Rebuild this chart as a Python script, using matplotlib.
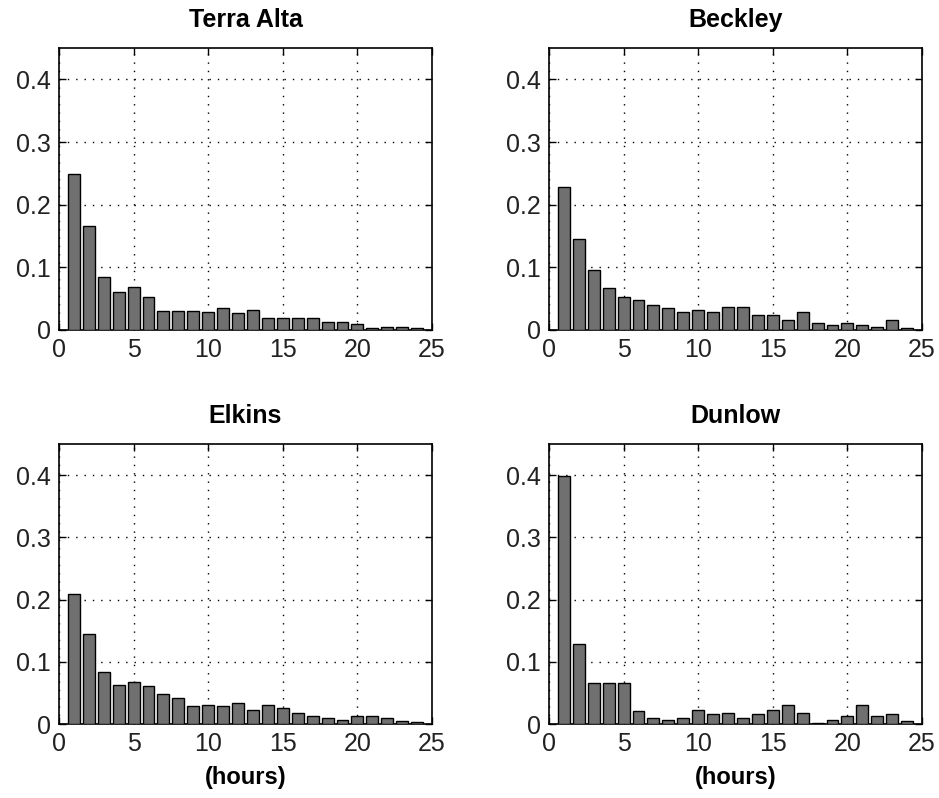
import matplotlib
matplotlib.use("Agg")
import matplotlib.pyplot as plt
from matplotlib.ticker import FuncFormatter

plt.rcParams['font.family'] = ['Liberation Sans', 'DejaVu Sans']

hours = list(range(1, 25))

terra_alta = [0.249, 0.166, 0.085, 0.061, 0.069, 0.053, 0.031, 0.031, 0.031, 0.029,
              0.035, 0.027, 0.032, 0.019, 0.019, 0.019, 0.019, 0.013, 0.013, 0.009,
              0.003, 0.005, 0.005, 0.003]
beckley = [0.228, 0.146, 0.096, 0.067, 0.053, 0.048, 0.040, 0.035, 0.029, 0.032,
           0.029, 0.037, 0.037, 0.024, 0.024, 0.016, 0.029, 0.011, 0.008, 0.011,
           0.008, 0.005, 0.016, 0.003]
elkins = [0.209, 0.145, 0.084, 0.063, 0.068, 0.061, 0.049, 0.042, 0.029, 0.031,
          0.029, 0.034, 0.023, 0.031, 0.026, 0.018, 0.013, 0.010, 0.007, 0.013,
          0.013, 0.010, 0.005, 0.003]
dunlow = [0.398, 0.129, 0.066, 0.066, 0.066, 0.021, 0.010, 0.007, 0.010, 0.023,
          0.016, 0.018, 0.010, 0.016, 0.023, 0.031, 0.018, 0.002, 0.007, 0.013,
          0.031, 0.013, 0.016, 0.005]

stations = ['Terra Alta', 'Beckley', 'Elkins', 'Dunlow']
series = [terra_alta, beckley, elkins, dunlow]

W, H = 939, 798
fig = plt.figure(figsize=(W / 100, H / 100), dpi=100)

# axes boxes in pixels: left, top, right, bottom
boxes = [(59, 48, 432, 330), (549, 48, 922, 330),
         (59, 444, 432, 724), (549, 444, 922, 724)]

fmt = FuncFormatter(lambda v, p: '0' if abs(v) < 1e-9 else f'{v:g}')

for i, (name, vals, (l, t, r, b)) in enumerate(zip(stations, series, boxes)):
    ax = fig.add_axes([l / W, 1 - b / H, (r - l) / W, (b - t) / H])
    ax.bar(hours, vals, width=0.8, color='#707070', edgecolor='black',
           linewidth=1.0, zorder=3)
    ax.set_xlim(0, 25)
    ax.set_ylim(0, 0.45)
    ax.set_xticks([0, 5, 10, 15, 20, 25])
    ax.set_yticks([0, 0.1, 0.2, 0.3, 0.4])
    ax.yaxis.set_major_formatter(fmt)
    ax.grid(True, color='black', linestyle=(0, (1, 5)), linewidth=1.0, zorder=1)
    ax.tick_params(direction='in', top=True, right=True, length=5,
                   labelsize=18, pad=6, width=1, labelcolor='#222222')
    for s in ax.spines.values():
        s.set_linewidth(1.2)
    ax.set_title(name, fontsize=18, fontweight='bold', pad=15)
    if i >= 2:
        ax.set_xlabel('(hours)', fontsize=17, fontweight='bold', labelpad=7)

fig.savefig('out.png', dpi=100)
